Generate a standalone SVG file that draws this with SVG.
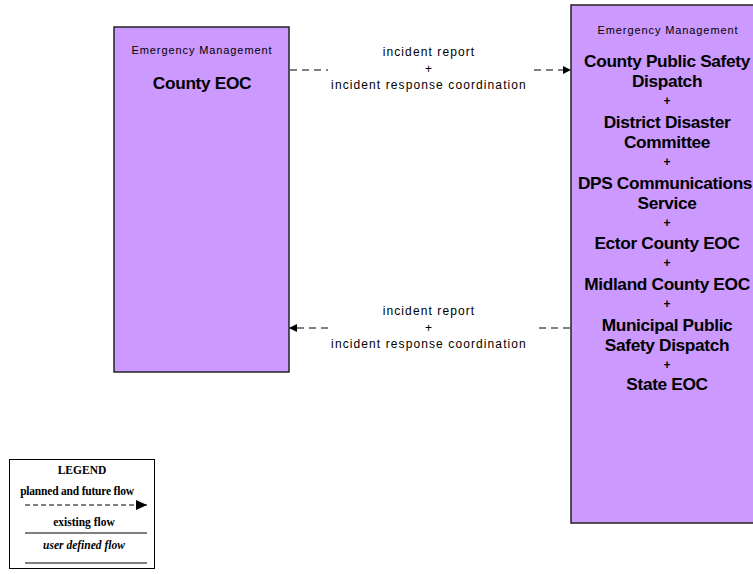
<svg xmlns="http://www.w3.org/2000/svg" width="753" height="574" viewBox="0 0 753 574">
<style>
.box{fill:#CC99FF;stroke:#222;stroke-width:1.5}
.t{font-family:"Liberation Sans",Arial,sans-serif;fill:#000;text-anchor:middle}
.sm{font-size:11px;letter-spacing:0.9px}
.big{font-size:17.3px;font-weight:bold;letter-spacing:-0.35px}
.pl{font-size:12px;font-weight:bold}
.lab{font-size:12px;letter-spacing:1.1px}
.dash{stroke:#000;stroke-width:1;stroke-dasharray:7,5;fill:none}
.lg{font-family:"Liberation Serif","Times New Roman",serif;font-weight:bold;font-size:11.5px;text-anchor:middle;fill:#000}
</style>
<defs>
<marker id="ah" markerWidth="8" markerHeight="8" refX="7" refY="4" orient="auto" markerUnits="userSpaceOnUse">
<path d="M0,0 L8,4 L0,8 Z" fill="#000"/>
</marker>
<marker id="ahl" markerWidth="12" markerHeight="12" refX="11" refY="5" orient="auto" markerUnits="userSpaceOnUse">
<path d="M0,0 L11,5 L0,10 Z" fill="#000"/>
</marker>
</defs>
<rect width="753" height="574" fill="#fff"/>
<g id="county-eoc">
<rect class="box" x="114" y="27" width="175" height="345"/>
<text class="t sm" x="202" y="54">Emergency Management</text>
<text class="t big" x="202" y="89">County EOC</text>
</g>
<g id="right-node">
<rect class="box" x="571" y="5" width="195" height="518"/>
<text class="t sm" x="668" y="34">Emergency Management</text>
<text class="t big" x="667" y="67">County Public Safety</text>
<text class="t big" x="667" y="87">Dispatch</text>
<text class="t pl" x="667" y="105">+</text>
<text class="t big" x="667" y="128">District Disaster</text>
<text class="t big" x="667" y="148">Committee</text>
<text class="t pl" x="667" y="166">+</text>
<text class="t big" x="665" y="189">DPS Communications</text>
<text class="t big" x="667" y="209">Service</text>
<text class="t pl" x="667" y="227">+</text>
<text class="t big" x="667" y="249">Ector County EOC</text>
<text class="t pl" x="667" y="267">+</text>
<text class="t big" x="667" y="290">Midland County EOC</text>
<text class="t pl" x="667" y="308">+</text>
<text class="t big" x="667" y="331">Municipal Public</text>
<text class="t big" x="667" y="351">Safety Dispatch</text>
<text class="t pl" x="667" y="369">+</text>
<text class="t big" x="667" y="390">State EOC</text>
</g>
<g id="connectors">
<line class="dash" x1="290" y1="70" x2="328" y2="70"/>
<line class="dash" x1="534" y1="70" x2="570" y2="70" marker-end="url(#ah)"/>
<text class="t lab" x="429" y="56">incident report</text>
<text class="t lab" x="429" y="73">+</text>
<text class="t lab" x="429" y="89">incident response coordination</text>
<line class="dash" x1="570" y1="328" x2="534" y2="328"/>
<line class="dash" x1="328" y1="328" x2="290" y2="328" marker-end="url(#ah)"/>
<text class="t lab" x="429" y="315">incident report</text>
<text class="t lab" x="429" y="332">+</text>
<text class="t lab" x="429" y="348">incident response coordination</text>
</g>
<g id="legend">
<rect x="9.5" y="459.5" width="145" height="109" fill="#fff" stroke="#000" stroke-width="1"/>
<text class="lg" x="82" y="474">LEGEND</text>
<text class="lg" x="77" y="495" letter-spacing="-0.2">planned and future flow</text>
<line x1="25" y1="505" x2="147" y2="505" stroke="#000" stroke-width="1" stroke-dasharray="5,3" marker-end="url(#ahl)"/>
<text class="lg" x="84" y="526">existing flow</text>
<line x1="25" y1="533" x2="147" y2="533" stroke="#000" stroke-width="1.2"/>
<text class="lg" x="84" y="549" font-style="italic">user defined flow</text>
<line x1="25" y1="563" x2="147" y2="563" stroke="#000" stroke-width="1.2"/>
</g>
</svg>
